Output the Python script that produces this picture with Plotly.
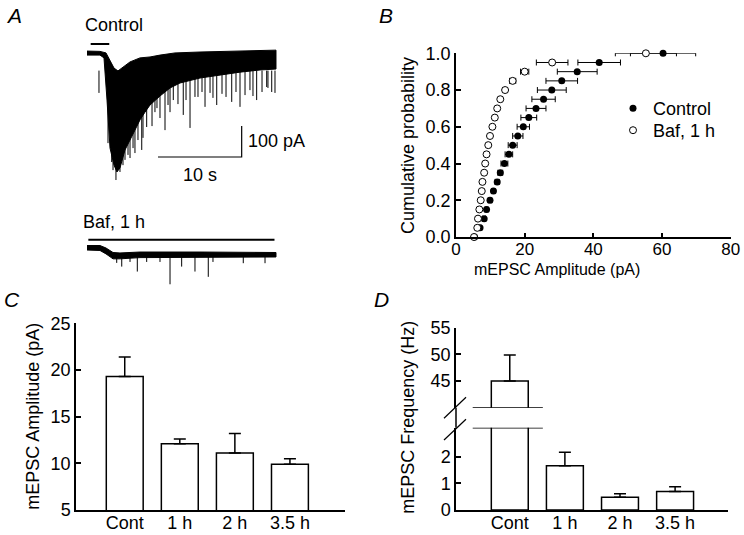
import plotly.graph_objects as go

W, H = 744, 535
def fx(px): return px / W
def fy(py): return 1 - py / H

FONT = "Liberation Sans, Arial, Helvetica, sans-serif"
NARROW = "Liberation Sans Narrow, Arial Narrow, Liberation Sans, Arial, sans-serif"

# ---------------- Panel A data (time in s, current in pA) ----------------
ctrl_upper_t = [0, 1.55, 2.27, 2.75, 3.23, 3.70, 4.54, 5.14, 6.33, 7.53, 8.72, 10.51, 13.5, 18.28, 22.58]
ctrl_upper_i = [3, 2, -3, -26, -52, -61, -45, -32, -19, -16, -10, -3, 0, 3, 6]
ctrl_lower_t = [0, 1.55, 2.03, 2.39, 2.75, 3.23, 3.58, 3.94, 4.54, 5.14, 5.73, 6.33, 6.93, 7.53,
                8.72, 9.92, 11.11, 13.5, 15.89, 18.28, 20.67, 22.58]
ctrl_lower_i = [-10, -10, -19, -155, -310, -365, -387, -374, -316, -284, -252, -219, -194, -171,
                -142, -116, -100, -84, -74, -65, -58, -55]
ctrl_spike_t = [1.43, 2.51, 2.95, 3.11, 3.46, 3.94, 4.30, 4.54, 4.90, 5.14, 5.50, 5.73, 6.09, 6.54, 6.69,
                7.13, 7.77, 8.12, 8.36, 8.72, 9.32, 9.68, 9.92, 10.31, 10.87, 11.50, 11.83, 12.31, 12.90,
                13.26, 13.74, 14.10, 14.70, 15.05, 15.50, 16.13, 16.61, 17.29, 17.80, 18.28, 18.88, 19.47,
                19.83, 20.27, 20.91, 21.47, 21.62, 22.07, 22.46]
ctrl_spike_i = [-132, -294, -355, -381, -413, -387, -365, -348, -332, -342, -310, -326, -284, -316, -277,
                -242, -239, -194, -181, -213, -252, -171, -194, -155, -168, -203, -155, -245, -145,
                -145, -129, -177, -132, -148, -171, -135, -145, -161, -129, -177, -139, -123,
                -142, -155, -129, -113, -116, -129, -132]
ctrl_spike_base = -60

baf_t = [0, 1.55, 2.27, 3.11, 3.94, 6.33, 13.5, 22.58]
baf_upper_i = [8, 8, 0, -14.5, -16, -13, -13, -14.5]
baf_lower_i = [-6.5, -8, -19, -35, -35, -31, -29, -29]
baf_spike_t = [3.55, 4.15, 5.14, 6.01, 7.13, 8.72, 9.92, 11.31, 12.90, 14.49, 15.05, 18.67, 21.27]
baf_spike_i = [-48, -60, -45, -76, -45, -45, -117, -60, -76, -93, -45, -49, -49]
baf_spike_base = -25

ctrl_bar_t = [0.44, 2.66]; ctrl_bar_i = 25.8
baf_bar_t = [0.16, 22.4]; baf_bar_i = 26.8
scale_t = [8.48, 18.48]     # 10 s
scale_i = [-338.7, -238.7]  # 100 pA

# ---------------- Panel B data ----------------
cum_prob = [0.0, 0.05, 0.10, 0.15, 0.20, 0.25, 0.30, 0.35, 0.40, 0.45, 0.50,
            0.55, 0.60, 0.65, 0.70, 0.75, 0.80, 0.85, 0.90, 0.95, 1.00]
ctrl_amp = [5.4, 7.0, 8.2, 8.9, 9.9, 10.9, 12.0, 12.9, 14.1, 15.4, 16.5,
            18.0, 19.6, 21.2, 23.3, 25.5, 27.9, 30.8, 35.3, 41.7, 60.3]
ctrl_err = [0.3, 0.3, 0.4, 0.4, 0.5, 0.5, 0.6, 0.7, 1.0, 1.1, 1.3,
            1.5, 1.8, 2.3, 2.9, 3.4, 4.2, 4.6, 5.8, 6.2, 9.5]
baf_amp = [5.25, 6.2, 6.4, 6.8, 7.2, 7.5, 7.7, 8.2, 8.5, 8.9, 9.4,
           9.9, 10.6, 11.3, 12.0, 12.9, 14.3, 16.5, 20.0, 28.0, 55.3]
baf_err = [0.3, 0.3, 0.3, 0.3, 0.3, 0.3, 0.3, 0.3, 0.3, 0.3, 0.3,
           0.3, 0.3, 0.4, 0.4, 0.5, 0.7, 0.9, 1.2, 4.6, 8.9]

# ---------------- Panel C / D data ----------------
groups = ["Cont", "1 h", "2 h", "3.5 h"]
group_pos = [1, 2, 3, 4]
amp_mean = [19.3, 12.1, 11.1, 9.9]
amp_sem = [2.1, 0.5, 2.1, 0.6]
freq_mean = [45.0, 1.66, 0.48, 0.69]
freq_sem = [4.9, 0.5, 0.13, 0.18]

fig = go.Figure()

# ---- Panel A traces ----
fig.add_trace(go.Scatter(x=ctrl_upper_t + ctrl_lower_t[::-1], y=ctrl_upper_i + ctrl_lower_i[::-1],
                         fill="toself", fillcolor="black", mode="lines", line=dict(color="black", width=1),
                         xaxis="x", yaxis="y", showlegend=False, hoverinfo="skip"))
sx, sy = [], []
for t, i in zip(ctrl_spike_t, ctrl_spike_i):
    sx += [t, t, None]; sy += [ctrl_spike_base, i, None]
fig.add_trace(go.Scatter(x=sx, y=sy, mode="lines", line=dict(color="black", width=1),
                         xaxis="x", yaxis="y", showlegend=False, hoverinfo="skip"))
fig.add_trace(go.Scatter(x=ctrl_bar_t, y=[ctrl_bar_i] * 2, mode="lines", line=dict(color="black", width=2),
                         xaxis="x", yaxis="y", showlegend=False, hoverinfo="skip"))
fig.add_trace(go.Scatter(x=[scale_t[0], scale_t[1], scale_t[1]], y=[scale_i[0], scale_i[0], scale_i[1]],
                         mode="lines", line=dict(color="black", width=1.2),
                         xaxis="x", yaxis="y", showlegend=False, hoverinfo="skip"))

fig.add_trace(go.Scatter(x=baf_t + baf_t[::-1], y=baf_upper_i + baf_lower_i[::-1],
                         fill="toself", fillcolor="black", mode="lines", line=dict(color="black", width=1),
                         xaxis="x2", yaxis="y2", showlegend=False, hoverinfo="skip"))
bx, by = [], []
for t, i in zip(baf_spike_t, baf_spike_i):
    bx += [t, t, None]; by += [baf_spike_base, i, None]
fig.add_trace(go.Scatter(x=bx, y=by, mode="lines", line=dict(color="black", width=1),
                         xaxis="x2", yaxis="y2", showlegend=False, hoverinfo="skip"))
fig.add_trace(go.Scatter(x=baf_bar_t, y=[baf_bar_i] * 2, mode="lines", line=dict(color="black", width=2),
                         xaxis="x2", yaxis="y2", showlegend=False, hoverinfo="skip"))

# ---- Panel B ----
fig.add_trace(go.Scatter(x=ctrl_amp, y=cum_prob, mode="markers", name="Control", legend="legend",
                         marker=dict(symbol="circle", size=7, color="black"),
                         error_x=dict(type="data", array=ctrl_err, color="black", thickness=1, width=3),
                         xaxis="x3", yaxis="y3", cliponaxis=False))
fig.add_trace(go.Scatter(x=baf_amp, y=cum_prob, mode="markers", name="Baf, 1 h", legend="legend2",
                         marker=dict(symbol="circle", size=7, color="white", line=dict(color="black", width=1)),
                         error_x=dict(type="data", array=baf_err, color="black", thickness=1, width=3),
                         xaxis="x3", yaxis="y3", cliponaxis=False))

# ---- Panel C ----
bar_style = dict(color="white", line=dict(color="black", width=1.5))
fig.add_trace(go.Bar(x=group_pos, y=amp_mean, width=0.67, marker=bar_style,
                     error_y=dict(type="data", symmetric=False, array=amp_sem, arrayminus=[0] * 4,
                                  color="black", thickness=1.5, width=6),
                     xaxis="x4", yaxis="y4", showlegend=False))

# ---- Panel D (broken axis) ----
for xa, ya in (("x5", "y5"), ("x6", "y6")):
    fig.add_trace(go.Bar(x=group_pos, y=freq_mean, width=0.67, marker=bar_style,
                         error_y=dict(type="data", symmetric=False, array=freq_sem, arrayminus=[0] * 4,
                                      color="black", thickness=1.5, width=6),
                         xaxis=xa, yaxis=ya, showlegend=False))

axis_common = dict(showgrid=False, zeroline=False, showline=True, linecolor="black", linewidth=1.5,
                   tickfont=dict(family=FONT, size=18, color="black"), ticks="inside",
                   tickcolor="black", tickwidth=1.5, ticklen=5, automargin=False)
cat_axis = {**axis_common, "ticks": "", "ticklabelstandoff": -4}
hidden = dict(visible=False, showgrid=False, zeroline=False, automargin=False)

A_x_domain = [fx(80), fx(290)]
A_t_range = [(80 - 87) / 8.37, (290 - 87) / 8.37]
D_lower_top = (510 - 427.7) / 26.7

legend_style = dict(xanchor="left", yanchor="top", bgcolor="rgba(0,0,0,0)",
                    font=dict(family=FONT, size=18, color="black"), itemwidth=30)

fig.update_layout(
    width=W, height=H, autosize=False,
    margin=dict(l=0, r=0, t=0, b=0, pad=0, autoexpand=False),
    paper_bgcolor="white", plot_bgcolor="white",
    font=dict(family=FONT, size=18, color="black"),
    barmode="overlay",
    xaxis=dict(domain=A_x_domain, range=A_t_range, anchor="y", **hidden),
    yaxis=dict(domain=[fy(190), fy(35)], range=[-(190 - 52) / 0.31, -(35 - 52) / 0.31], anchor="x", **hidden),
    xaxis2=dict(domain=A_x_domain, range=A_t_range, anchor="y2", **hidden),
    yaxis2=dict(domain=[fy(292), fy(232)], range=[-(292 - 248) / 0.31, (248 - 232) / 0.31], anchor="x2", **hidden),
    xaxis3=dict(domain=[fx(456), fx(730.7)], range=[0, 80], anchor="y3", tickvals=[0, 20, 40, 60, 80],
                **{**axis_common, "ticklen": 4, "ticklabelstandoff": -4,
                   "tickfont": dict(family=FONT, size=17, color="black")}),
    yaxis3=dict(domain=[fy(237), fy(53.3)], range=[0, 1], anchor="x3", tickvals=[0, 0.2, 0.4, 0.6, 0.8, 1.0],
                tickformat=".1f", **axis_common),
    xaxis4=dict(domain=[fx(76), fx(345)], range=[0.115, 5.0], anchor="y4", tickvals=group_pos,
                ticktext=groups, **cat_axis),
    yaxis4=dict(domain=[fy(510), fy(323.3)], range=[5, 25], anchor="x4", tickvals=[5, 10, 15, 20, 25],
                **axis_common),
    xaxis5=dict(domain=[fx(456), fx(728)], range=[0.024, 4.96], anchor="y5", tickvals=group_pos,
                ticktext=groups, **cat_axis),
    yaxis5=dict(domain=[fy(510), fy(427.7)], range=[0, D_lower_top], anchor="x5", tickvals=[0, 1, 2],
                **axis_common),
    xaxis6=dict(domain=[fx(456), fx(728)], range=[0.024, 4.96], anchor="y6", **hidden),
    yaxis6=dict(domain=[fy(407.7), fy(327.7)], range=[40, 55], anchor="x6", tickvals=[45, 50, 55],
                **axis_common),
    legend=dict(x=fx(613), y=fy(90), **legend_style),
    legend2=dict(x=fx(613), y=fy(112), **legend_style),
)

# Broken-axis decorations for panel D
shapes = []
for ya, yv in (("y6", 40), ("y5", D_lower_top)):
    shapes.append(dict(type="line", xref="x5", yref=ya, x0=0.327, x1=1.6, y0=yv, y1=yv,
                       line=dict(color="black", width=1.5)))
shapes.append(dict(type="line", xref="paper", yref="paper", x0=fx(456), x1=fx(456), y0=fy(427.7), y1=fy(407.7),
                   line=dict(color="black", width=1.5)))
for (x0, y0, x1, y1) in ((444, 418.3, 466, 397.3), (444, 440, 466, 419.3)):
    shapes.append(dict(type="line", xref="paper", yref="paper", x0=fx(x0), y0=fy(y0), x1=fx(x1), y1=fy(y1),
                       line=dict(color="black", width=1.2)))
fig.update_layout(shapes=shapes)

ann = []
def text(x, y, s, size=18, angle=0, xanchor="center", family=FONT):
    ann.append(dict(x=fx(x), y=fy(y), xref="paper", yref="paper", text=s, showarrow=False,
                    xanchor=xanchor, yanchor="middle", textangle=angle,
                    font=dict(family=family, size=size, color="black")))

text(14, 15, "<i>A</i>", size=21)
text(386, 15, "<i>B</i>", size=21)
text(12, 299, "<i>C</i>", size=21)
text(381, 299, "<i>D</i>", size=21)
text(114, 25, "Control")
text(114, 222, "Baf, 1 h")
text(246, 141, "100 pA", xanchor="left")
text(200, 175, "10 s")
text(408, 145, "Cumulative probability", angle=-90)
text(557, 270, "mEPSC Amplitude (pA)", size=16, family=NARROW)
text(33, 416.7, "mEPSC Amplitude (pA)", angle=-90)
text(408, 416.7, "mEPSC Frequency (Hz)", angle=-90)
fig.update_layout(annotations=ann)

fig.write_html("out.html", config={"displayModeBar": False},
               post_script="document.body.style.margin='0px';")
